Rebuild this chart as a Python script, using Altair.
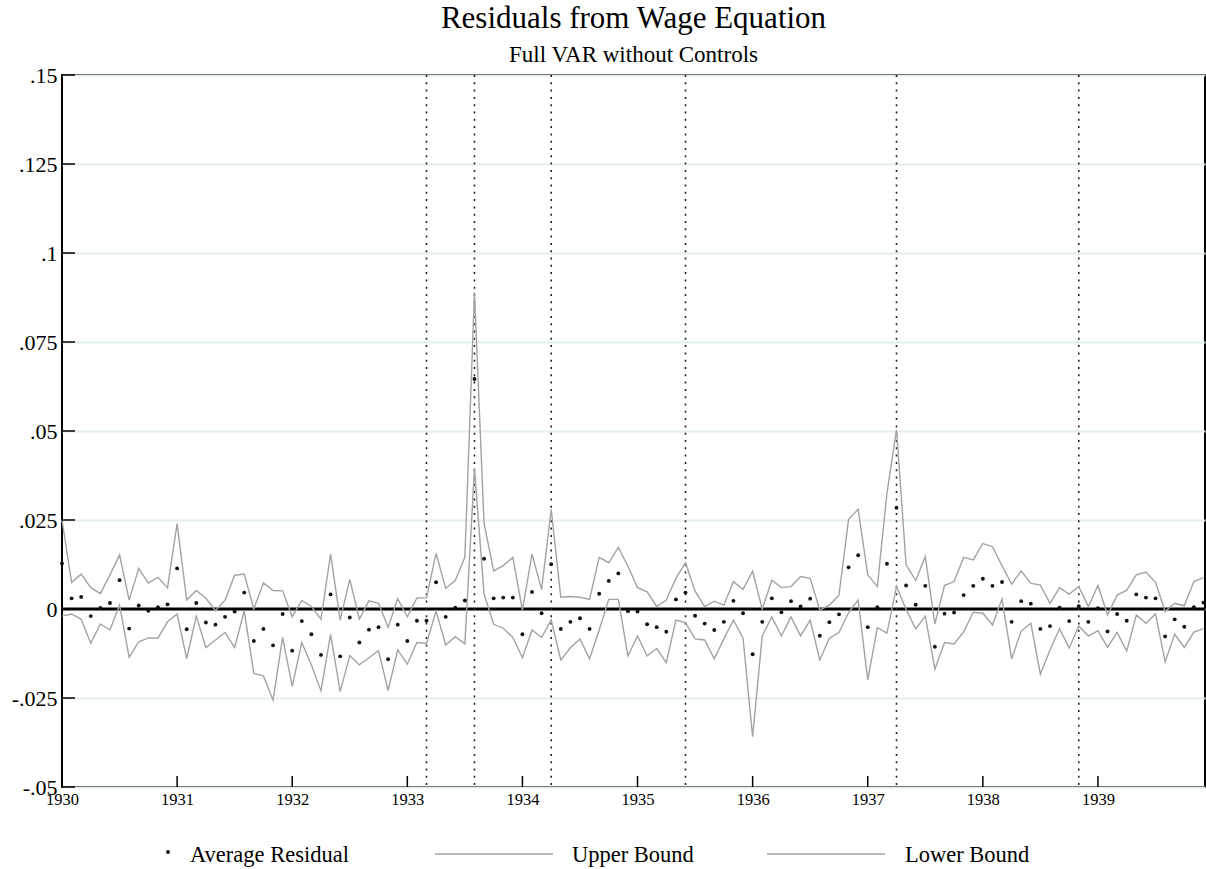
import altair as alt
import pandas as pd

# ---- data (monthly, Jan 1930 .. Dec 1939) ----
avg_residual = [
    0.0128, 0.0030, 0.0034, -0.0020, 0.0003, 0.0017, 0.0081, -0.0055, 0.0010, -0.0005,
    0.0005, 0.0013, 0.0114, -0.0057, 0.0017, -0.0038, -0.0044, -0.0022, -0.0007, 0.0046,
    -0.0090, -0.0056, -0.0102, -0.0014, -0.0117, -0.0034, -0.0071, -0.0129, 0.0041, -0.0133,
    -0.0024, -0.0094, -0.0058, -0.0051, -0.0141, -0.0044, -0.0090, -0.0033, -0.0033, 0.0075,
    -0.0022, 0.0004, 0.0024, 0.0646, 0.0141, 0.0030, 0.0032, 0.0032, -0.0071, 0.0048,
    -0.0012, 0.0126, -0.0056, -0.0036, -0.0026, -0.0056, 0.0043, 0.0079, 0.0100, -0.0006,
    -0.0007, -0.0043, -0.0051, -0.0064, 0.0027, 0.0046, -0.0019, -0.0041, -0.0059, -0.0036,
    0.0023, -0.0012, -0.0127, -0.0036, 0.0030, -0.0009, 0.0022, 0.0007, 0.0029, -0.0075,
    -0.0037, -0.0015, 0.0117, 0.0151, -0.0051, 0.0005, 0.0127, 0.0284, 0.0066, 0.0012,
    0.0065, -0.0106, -0.0013, -0.0010, 0.0039, 0.0065, 0.0085, 0.0065, 0.0076, -0.0036,
    0.0022, 0.0015, -0.0056, -0.0048, 0.0004, -0.0034, 0.0008, -0.0036, 0.0002, -0.0063,
    -0.0014, -0.0033, 0.0041, 0.0032, 0.0030, -0.0077, -0.0029, -0.0050, 0.0005, 0.0018,
]
upper_bound = [
    0.0250, 0.0075, 0.0098, 0.0060, 0.0043, 0.0096, 0.0152, 0.0025, 0.0114, 0.0073,
    0.0089, 0.0060, 0.0240, 0.0025, 0.0052, 0.0030, -0.0005, 0.0025, 0.0095, 0.0098,
    0.0000, 0.0073, 0.0052, 0.0051, -0.0022, 0.0024, 0.0007, -0.0029, 0.0154, -0.0031,
    0.0083, -0.0028, 0.0023, 0.0016, -0.0051, 0.0029, -0.0022, 0.0031, 0.0032, 0.0156,
    0.0058, 0.0080, 0.0145, 0.0890, 0.0241, 0.0107, 0.0122, 0.0145, -0.0003, 0.0154,
    0.0055, 0.0280, 0.0033, 0.0035, 0.0033, 0.0027, 0.0145, 0.0130, 0.0173, 0.0120,
    0.0060, 0.0048, 0.0007, 0.0025, 0.0086, 0.0130, 0.0050, 0.0007, 0.0022, 0.0011,
    0.0077, 0.0055, 0.0106, 0.0000, 0.0081, 0.0060, 0.0063, 0.0091, 0.0086, -0.0003,
    0.0011, 0.0039, 0.0252, 0.0280, 0.0096, 0.0063, 0.0325, 0.0503, 0.0124, 0.0080,
    0.0147, -0.0042, 0.0066, 0.0077, 0.0145, 0.0138, 0.0184, 0.0175, 0.0122, 0.0070,
    0.0107, 0.0072, 0.0067, 0.0016, 0.0060, 0.0042, 0.0063, 0.0007, 0.0066, -0.0017,
    0.0039, 0.0053, 0.0096, 0.0104, 0.0075, -0.0007, 0.0016, 0.0009, 0.0077, 0.0088,
]
lower_bound = [
    -0.0020, -0.0014, -0.0029, -0.0096, -0.0042, -0.0059, 0.0011, -0.0136, -0.0092, -0.0081,
    -0.0082, -0.0036, -0.0014, -0.0139, -0.0020, -0.0108, -0.0087, -0.0066, -0.0108, -0.0005,
    -0.0181, -0.0188, -0.0256, -0.0080, -0.0217, -0.0094, -0.0157, -0.0230, -0.0071, -0.0232,
    -0.0131, -0.0157, -0.0137, -0.0117, -0.0229, -0.0115, -0.0155, -0.0094, -0.0096, -0.0006,
    -0.0101, -0.0078, -0.0098, 0.0395, 0.0042, -0.0043, -0.0054, -0.0080, -0.0137, -0.0059,
    -0.0080, -0.0031, -0.0143, -0.0109, -0.0084, -0.0140, -0.0059, 0.0027, 0.0027, -0.0132,
    -0.0076, -0.0132, -0.0111, -0.0151, -0.0031, -0.0038, -0.0084, -0.0087, -0.0140, -0.0084,
    -0.0031, -0.0082, -0.0359, -0.0076, -0.0022, -0.0076, -0.0022, -0.0076, -0.0031, -0.0143,
    -0.0082, -0.0066, -0.0010, 0.0025, -0.0199, -0.0052, -0.0068, 0.0063, -0.0001, -0.0056,
    -0.0020, -0.0169, -0.0094, -0.0098, -0.0064, -0.0009, -0.0012, -0.0045, 0.0028, -0.0140,
    -0.0062, -0.0040, -0.0183, -0.0115, -0.0055, -0.0110, -0.0048, -0.0076, -0.0061, -0.0108,
    -0.0066, -0.0118, -0.0017, -0.0040, -0.0014, -0.0148, -0.0071, -0.0108, -0.0065, -0.0055,
]
event_dates = [1933 + 2/12, 1933 + 7/12, 1934 + 3/12, 1935 + 5/12, 1937 + 3/12, 1938 + 10/12]
year_ticks = list(range(1930, 1940))
y_ticks = [-0.05, -0.025, 0, 0.025, 0.05, 0.075, 0.1, 0.125, 0.15]

dates = [1930 + k / 12 for k in range(len(avg_residual))]
df_avg = pd.DataFrame({"date": dates, "value": avg_residual})
df_bounds = pd.DataFrame({
    "date": dates + dates,
    "value": upper_bound + lower_bound,
    "series": ["Upper Bound"] * len(dates) + ["Lower Bound"] * len(dates),
})
df_events = pd.DataFrame({"date": event_dates})
df_zero = pd.DataFrame({"value": [0.0]})
df_xt = pd.DataFrame({"date": year_ticks})
df_yt = pd.DataFrame({"value": y_ticks})

FONT = "Liberation Serif"
W, H = 1143, 712
LINE_COLOR = "#a3a3a3"

xs = alt.Scale(domain=[1930, 1939.93], nice=False, zero=False)
ys = alt.Scale(domain=[-0.05, 0.15], nice=False, zero=False)
xaxis = alt.Axis(values=year_ticks, format="d", title=None, ticks=False, domain=False,
                 grid=False, labelFont=FONT, labelFontSize=16.5, labelColor="black",
                 labelPadding=4, labelFlush=False)
yaxis = alt.Axis(values=y_ticks, title=None, ticks=False, domain=False, grid=True,
                 gridColor="#e3edef", gridWidth=2, labelFont=FONT, labelFontSize=22,
                 labelColor="black", labelPadding=5,
                 labelExpr="(datum.value < 0 ? '-' : '') + replace(format(abs(datum.value), '~g'), '0.', '.')")

def X(f):
    return alt.X(f, type="quantitative", scale=xs, axis=xaxis)

def Y(f):
    return alt.Y(f, type="quantitative", scale=ys, axis=yaxis)

zero_line = alt.Chart(df_zero).mark_rule(color="black", strokeWidth=3).encode(y=Y("value"))
events = alt.Chart(df_events).mark_rule(color="#222222", strokeWidth=1.6, strokeDash=[2, 5.3]).encode(x=X("date"))
bounds = alt.Chart(df_bounds).mark_line(color=LINE_COLOR, strokeWidth=1.4).encode(
    x=X("date"), y=Y("value"), detail="series:N")
dots = alt.Chart(df_avg).mark_circle(color="#111111", size=15, opacity=1).encode(x=X("date"), y=Y("value"))
xt = alt.Chart(df_xt).mark_rule(color="black", strokeWidth=1.5).encode(
    x=X("date"), y=alt.value(H), y2=alt.value(H - 11))
yt = alt.Chart(df_yt).mark_rule(color="black", strokeWidth=1.5).encode(
    y=Y("value"), x=alt.value(0), x2=alt.value(13))

# ---- bottom legend ----
LY = 855 - 75
leg_text = alt.Chart(pd.DataFrame({"label": ["Average Residual"]})).mark_text(
    align="left", baseline="middle", font=FONT, fontSize=22.5, color="black").encode(
    text="label:N", x=alt.value(190 - 62), y=alt.value(LY))
leg_text2 = alt.Chart(pd.DataFrame({"label": ["Upper Bound"]})).mark_text(
    align="left", baseline="middle", font=FONT, fontSize=22.5, color="black").encode(
    text="label:N", x=alt.value(572 - 62), y=alt.value(LY))
leg_text3 = alt.Chart(pd.DataFrame({"label": ["Lower Bound"]})).mark_text(
    align="left", baseline="middle", font=FONT, fontSize=22.5, color="black").encode(
    text="label:N", x=alt.value(905 - 62), y=alt.value(LY))
leg_dot = alt.Chart(pd.DataFrame({"label": ["Average Residual"]})).mark_circle(
    color="#111111", size=15, opacity=1).encode(x=alt.value(168 - 62), y=alt.value(LY - 3))
leg_l1 = alt.Chart(pd.DataFrame({"label": ["Upper Bound"]})).mark_rule(
    color=LINE_COLOR, strokeWidth=1.6).encode(x=alt.value(435 - 62), x2=alt.value(553 - 62), y=alt.value(LY - 1))
leg_l2 = alt.Chart(pd.DataFrame({"label": ["Lower Bound"]})).mark_rule(
    color=LINE_COLOR, strokeWidth=1.6).encode(x=alt.value(767 - 62), x2=alt.value(885 - 62), y=alt.value(LY - 1))

chart = alt.layer(
    zero_line, events, bounds, dots, xt, yt,
    leg_dot, leg_text, leg_l1, leg_text2, leg_l2, leg_text3,
).properties(
    width=W, height=H,
    title=alt.TitleParams(
        text="Residuals from Wage Equation", subtitle="Full VAR without Controls",
        font=FONT, fontSize=31, fontWeight="normal", color="black",
        subtitleFont=FONT, subtitleFontSize=23, subtitleColor="black",
        anchor="middle", offset=-4, subtitlePadding=9),
    autosize=alt.AutoSizeParams(type="none"),
    padding={"left": 62, "top": 75, "right": 1, "bottom": 82},
).configure_view(stroke="black", strokeWidth=2)

chart.save("out.html", embed_options={"renderer": "svg", "actions": False})
